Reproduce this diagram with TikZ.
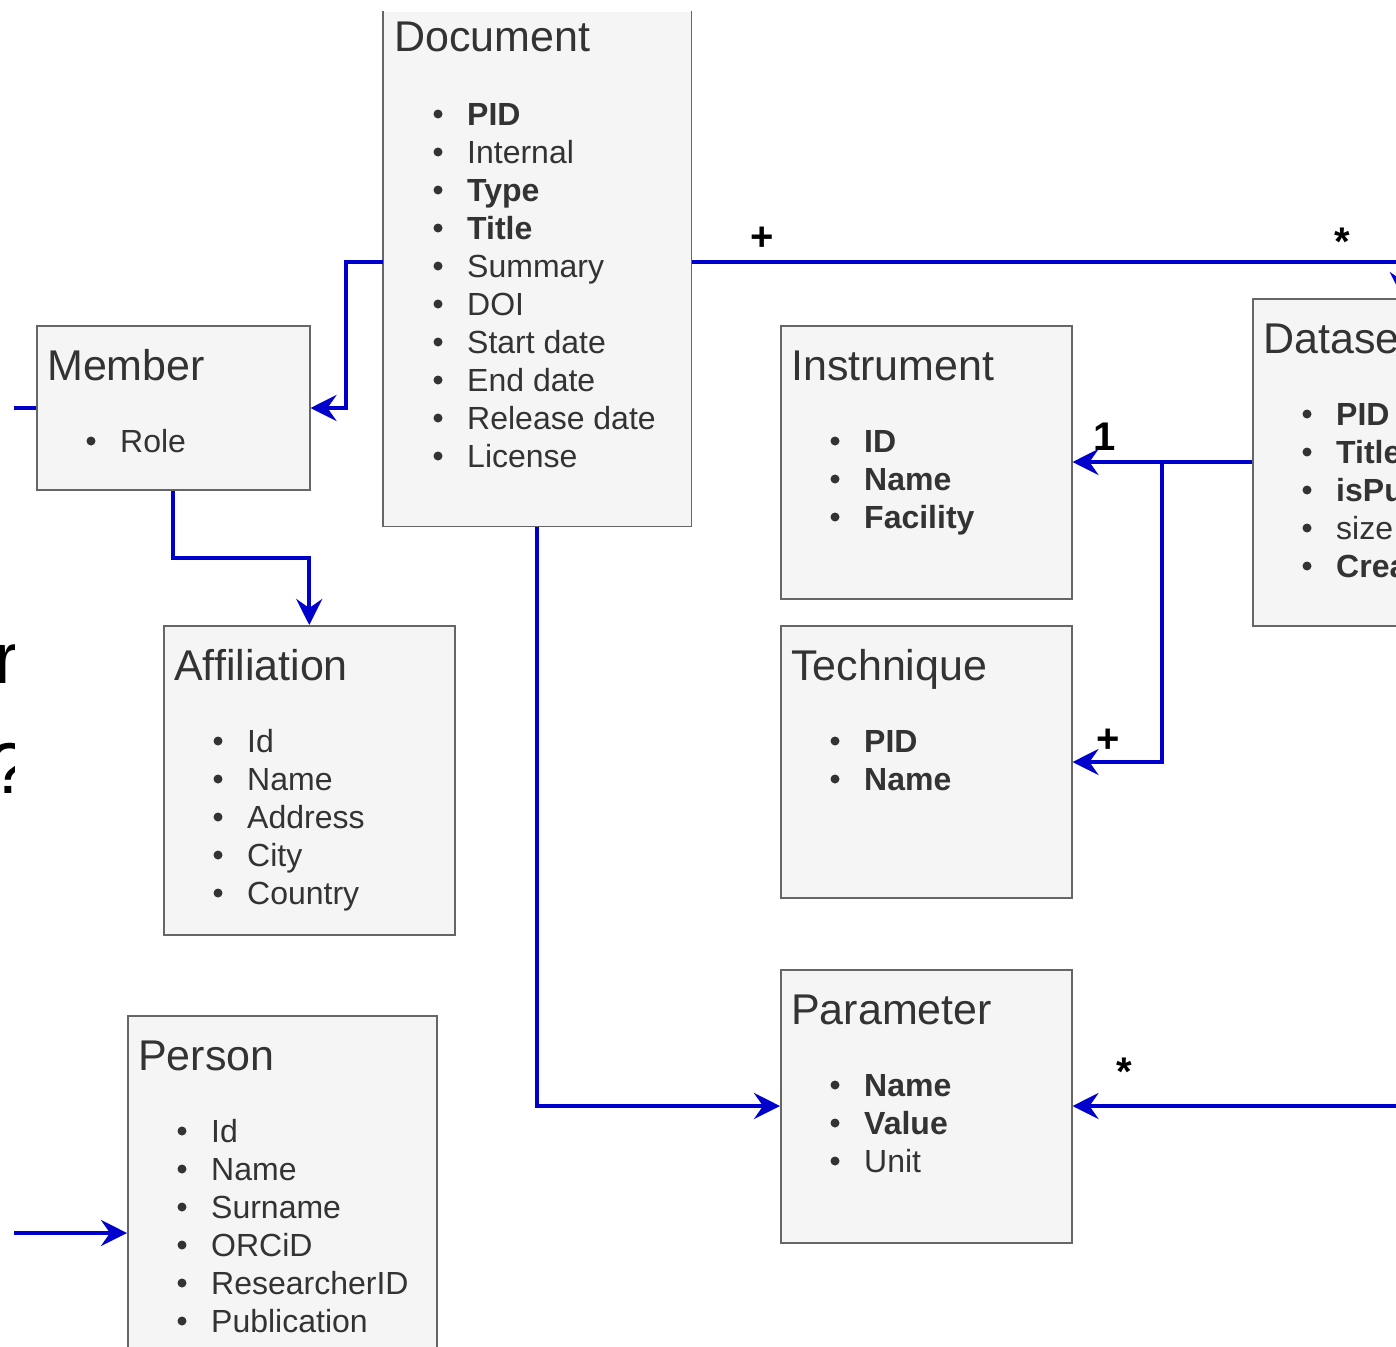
\documentclass[tikz,border=0pt]{standalone}
\usepackage{fontspec}
\setmainfont{Liberation Sans}
\usetikzlibrary{arrows.meta}
\definecolor{txt}{HTML}{333333}
\definecolor{boxfill}{HTML}{F5F5F5}
\definecolor{boxline}{HTML}{666666}
\definecolor{conn}{HTML}{0000CC}
\newcommand{\listat}[4]{%
  \foreach [count=\i from 0] \s/\t in {#4} {
    \node[blt] (#1-b\i) at (#2+55, #3+38*\i-11) {};
    \node[\s] (#1-i\i) at (#2+84, #3+38*\i) {\t};
  }}
\begin{document}
\begin{tikzpicture}[x=1pt,y=-1pt,
  box/.style={fill=boxfill,draw=boxline,line width=1.5pt,inner sep=0pt,anchor=north west},
  ttl/.style={anchor=base west,inner sep=0pt,text=txt,font=\fontsize{43}{50}\selectfont},
  itm/.style={anchor=base west,inner sep=0pt,text=txt,font=\fontsize{32}{38}\selectfont},
  bitm/.style={anchor=base west,inner sep=0pt,text=txt,font=\fontsize{32}{38}\selectfont\bfseries},
  blt/.style={circle,fill=txt,inner sep=0pt,minimum size=9pt},
  link/.style={draw=conn,line width=4pt},
  arr/.style={link,-{Stealth[length=26pt,width=26pt,inset=9pt]}},
  mult/.style={anchor=base,inner sep=0pt,font=\fontsize{40}{44}\selectfont\bfseries,text=black},
  frag/.style={anchor=base west,inner sep=0pt,font=\fontsize{72}{80}\selectfont,text=black}
]
\useasboundingbox (0,0) rectangle (1396,1346);
\clip (0,0) rectangle (1396,1346);

% left fragments (cut at the left edge)
\begin{scope}
  \clip (0,600) rectangle (14,820);
  \node[frag] (fr) at (-6,683) {r};
  \node[frag] (fq) at (-11,793) {?};
\end{scope}

% boxes
\node[box,draw=none,minimum width=307pt,minimum height=514pt] (doc) at (383,11) {};
\draw[draw=boxline,line width=1.5pt] (doc.north west) -- (doc.south west) -- (doc.south east) -- (doc.north east);
\node[box,minimum width=273pt,minimum height=164pt] (member) at (36,325) {};
\node[box,minimum width=291pt,minimum height=309pt] (affil) at (163,625) {};
\node[box,minimum width=309pt,minimum height=400pt] (person) at (127,1015) {};
\node[box,minimum width=291pt,minimum height=273pt] (instr) at (780,325) {};
\node[box,minimum width=291pt,minimum height=272pt] (tech) at (780,625) {};
\node[box,minimum width=291pt,minimum height=273pt] (param) at (780,969) {};
\node[box,minimum width=300pt,minimum height=327pt] (dataset) at (1252,298) {};

% titles
\node[ttl] (doc-t) at (394,52) {Document};
\node[ttl] (member-t) at (47,380) {Member};
\node[ttl] (affil-t) at (174,680) {Affiliation};
\node[ttl] (person-t) at (138,1070) {Person};
\node[ttl] (instr-t) at (791,380) {Instrument};
\node[ttl] (tech-t) at (791,680) {Technique};
\node[ttl] (param-t) at (791,1024) {Parameter};
\node[ttl] (dataset-t) at (1263,353) {Dataset};

% items
\listat{doc}{383}{125}{bitm/PID,itm/Internal,bitm/Type,bitm/Title,itm/Summary,itm/DOI,itm/Start date,itm/End date,itm/Release date,itm/License}
\listat{member}{36}{452}{itm/Role}
\listat{affil}{163}{752}{itm/Id,itm/Name,itm/Address,itm/City,itm/Country}
\listat{person}{127}{1142}{itm/Id,itm/Name,itm/Surname,itm/ORCiD,itm/ResearcherID,itm/Publication}
\listat{instr}{780}{452}{bitm/ID,bitm/Name,bitm/Facility}
\listat{tech}{780}{752}{bitm/PID,bitm/Name}
\listat{param}{780}{1096}{bitm/Name,bitm/Value,itm/Unit}
\listat{dataset}{1252}{425}{bitm/PID,bitm/Title,bitm/isPublic,itm/size,bitm/Creation date}

% helper coordinates
\coordinate (yTop) at (0,262);
\coordinate (b1) at (346,262);
\coordinate (yM) at (0,408);
\coordinate (mL) at (14,408);
\coordinate (b3) at (240,558);
\coordinate (yP) at (0,1106);
\coordinate (pR) at (1400,1106);
\coordinate (yI) at (0,462);
\coordinate (br) at (1162,462);
\coordinate (yT) at (0,762);
\coordinate (pL) at (14,1233);

% connectors
\draw[arr] (doc.west |- b1) -- (b1) |- (member.east |- yM);
\draw[link] (mL) -- (member.west |- mL);
\draw[arr] (member.south) |- (b3) -| (affil.north);
\draw[arr] (doc.south) |- (param.west |- yP);
\draw[arr] (doc.east |- yTop) -| (dataset.north);
\draw[arr] (dataset.west |- yI) -- (instr.east |- yI);
\draw[arr] (br) |- (tech.east |- yT);
\draw[arr] (pR) -- (param.east |- pR);
\draw[arr] (pL) -- (person.west |- pL);

% multiplicities
\node[mult] (m1) at (762,250) {+};
\node[mult] (m2) at (1342,255) {*};
\node[mult] (m3) at (1105,450) {1};
\node[mult] (m4) at (1108,752) {+};
\node[mult] (m5) at (1124,1085) {*};
\end{tikzpicture}
\end{document}
